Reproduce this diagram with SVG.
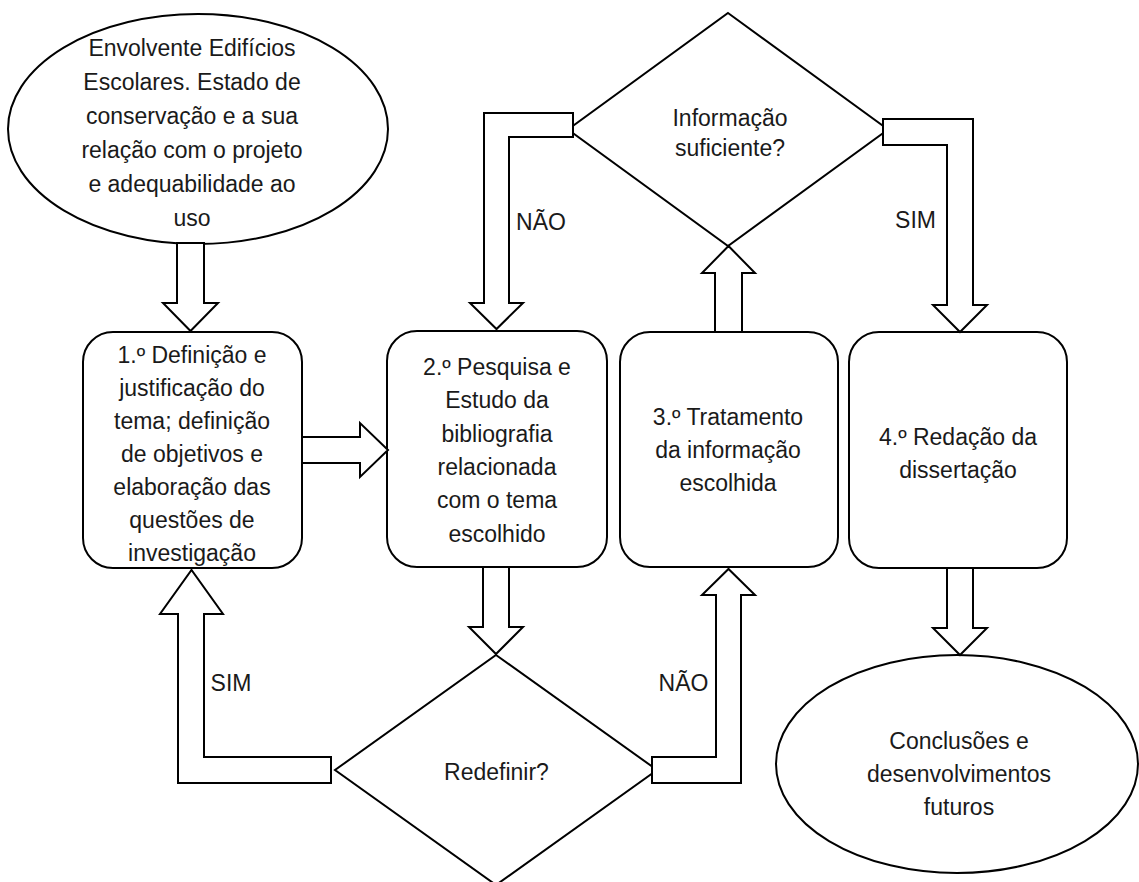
<svg xmlns="http://www.w3.org/2000/svg" width="1139" height="882" viewBox="0 0 1139 882">
<style>
.shape{fill:#ffffff;stroke:#000000;stroke-width:2}
.arrow{fill:#ffffff;stroke:#000000;stroke-width:2;stroke-linejoin:miter}
text{font-family:"Liberation Sans",Arial,sans-serif;font-size:23px;fill:#1a1a1a;text-anchor:middle}
</style>
<rect width="1139" height="882" fill="#ffffff"/>
<g id="node-envolvente">
<ellipse class="shape" cx="198" cy="129" rx="190" ry="115"/>
<text x="192" y="56">Envolvente Edifícios</text>
<text x="192" y="90">Escolares. Estado de</text>
<text x="192" y="124">conservação e a sua</text>
<text x="192" y="158">relação com o projeto</text>
<text x="192" y="192">e adequabilidade ao</text>
<text x="192" y="226">uso</text>
</g>
<g id="node-passo1">
<rect class="shape" x="83" y="332" width="219" height="236" rx="30" ry="30"/>
<text x="192" y="363">1.º Definição e</text>
<text x="192" y="396">justificação do</text>
<text x="192" y="429">tema; definição</text>
<text x="192" y="462">de objetivos e</text>
<text x="192" y="495">elaboração das</text>
<text x="192" y="528">questões de</text>
<text x="192" y="561">investigação</text>
</g>
<g id="node-passo2">
<rect class="shape" x="387" y="331" width="220" height="236" rx="30" ry="30"/>
<text x="497" y="375">2.º Pesquisa e</text>
<text x="497" y="408">Estudo da</text>
<text x="497" y="442">bibliografia</text>
<text x="497" y="475">relacionada</text>
<text x="497" y="508">com o tema</text>
<text x="497" y="542">escolhido</text>
</g>
<g id="node-passo3">
<rect class="shape" x="620" y="332" width="218" height="235" rx="30" ry="30"/>
<text x="728" y="425">3.º Tratamento</text>
<text x="728" y="458">da informação</text>
<text x="728" y="491">escolhida</text>
</g>
<g id="node-passo4">
<rect class="shape" x="849" y="332" width="218" height="236" rx="30" ry="30"/>
<text x="958" y="445">4.º Redação da</text>
<text x="958" y="478">dissertação</text>
</g>
<g id="node-informacao">
<polygon class="shape" points="728,13 888,129.5 728,246 568,129.5"/>
<text x="730" y="126">Informação</text>
<text x="730" y="156">suficiente?</text>
</g>
<g id="node-redefinir">
<polygon class="shape" points="496,655 657,770 496,885 335,770"/>
<text x="496.5" y="780">Redefinir?</text>
</g>
<g id="node-conclusoes">
<ellipse class="shape" cx="957" cy="764" rx="181" ry="109"/>
<text x="959" y="749">Conclusões e</text>
<text x="959" y="782">desenvolvimentos</text>
<text x="959" y="815">futuros</text>
</g>
<g id="connectors">
<polygon class="arrow" points="177,243 204,243 204,303 218,303 190.5,331 163,303 177,303"/>
<polygon class="arrow" points="302,437 360,437 360,423 388,450 360,477 360,463 302,463"/>
<polygon class="arrow" points="483,567 509,567 509,627 523,627 496,654 469,627 483,627"/>
<polygon class="arrow" points="331,757 204,757 204,614 223,614 191.5,570 160,614 178,614 178,783 331,783"/>
<polygon class="arrow" points="652,757 716,757 716,595 702,595 728.5,569 755,595 741,595 741,783 652,783"/>
<polygon class="arrow" points="715,332 715,273 702,273 728.5,246 755,273 742,273 742,332"/>
<polygon class="arrow" points="573,113 484,113 484,303 470,303 496.5,329 523,303 509,303 509,137 573,137"/>
<polygon class="arrow" points="883,119 973,119 973,305 987,305 960,332 933,305 947,305 947,145 883,145"/>
<polygon class="arrow" points="947,568 973,568 973,628 987,628 960,655 933,628 947,628"/>
<text x="541" y="230">NÃO</text>
<text x="915.5" y="228">SIM</text>
<text x="231" y="691">SIM</text>
<text x="683.5" y="691">NÃO</text>
</g>
</svg>
